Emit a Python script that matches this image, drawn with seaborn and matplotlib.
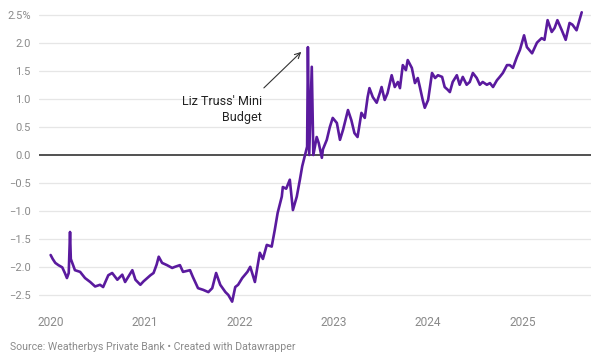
import pandas as pd
import matplotlib.pyplot as plt
import matplotlib.dates as mdates
import seaborn as sns

# Values (%)
dates = [
    "2020-01-02", "2020-01-10", "2020-01-20", "2020-02-01", "2020-02-16", "2020-02-26",
    "2020-03-05", "2020-03-12", "2020-03-17", "2020-03-20", "2020-03-24", "2020-04-05",
    "2020-04-25", "2020-05-14", "2020-06-03", "2020-06-22", "2020-07-11", "2020-07-23",
    "2020-08-12", "2020-08-27", "2020-09-16", "2020-10-05", "2020-10-16", "2020-11-13",
    "2020-11-25", "2020-12-14", "2020-12-26", "2021-01-10", "2021-01-22", "2021-02-03",
    "2021-02-15", "2021-02-23", "2021-03-08", "2021-03-27", "2021-04-16", "2021-04-27",
    "2021-05-16", "2021-05-28", "2021-06-24", "2021-07-05", "2021-07-25", "2021-08-14",
    "2021-09-03", "2021-09-18", "2021-10-03", "2021-10-19", "2021-11-08", "2021-11-19",
    "2021-12-04", "2021-12-16", "2021-12-27", "2022-01-12", "2022-02-01", "2022-02-12",
    "2022-03-02", "2022-03-21", "2022-04-02", "2022-04-17", "2022-05-06", "2022-05-18",
    "2022-05-29", "2022-06-14", "2022-06-18", "2022-07-01", "2022-07-15", "2022-07-27",
    "2022-08-11", "2022-08-23", "2022-09-01", "2022-09-12", "2022-09-20", "2022-09-23",
    "2022-09-28", "2022-10-08", "2022-10-14", "2022-10-27", "2022-11-04", "2022-11-16",
    "2022-11-20", "2022-12-05", "2022-12-17", "2022-12-28", "2023-01-13", "2023-01-25",
    "2023-02-06", "2023-02-25", "2023-03-10", "2023-03-22", "2023-04-03", "2023-04-18",
    "2023-05-01", "2023-05-12", "2023-05-19", "2023-06-01", "2023-06-16", "2023-06-28",
    "2023-07-05", "2023-07-17", "2023-07-28", "2023-08-13", "2023-08-25", "2023-09-06",
    "2023-09-14", "2023-09-25", "2023-10-07", "2023-10-14", "2023-10-30", "2023-11-11",
    "2023-11-22", "2023-11-30", "2023-12-11", "2023-12-19", "2024-01-01", "2024-01-16",
    "2024-01-28", "2024-02-08", "2024-02-24", "2024-03-05", "2024-03-17", "2024-03-25",
    "2024-04-05", "2024-04-21", "2024-05-02", "2024-05-14", "2024-05-29", "2024-06-10",
    "2024-06-22", "2024-07-07", "2024-07-19", "2024-07-30", "2024-08-15", "2024-08-27",
    "2024-09-08", "2024-09-23", "2024-10-04", "2024-10-16", "2024-11-01", "2024-11-12",
    "2024-11-24", "2024-12-09", "2024-12-21", "2025-01-06", "2025-01-17", "2025-02-06",
    "2025-02-25", "2025-03-15", "2025-03-26", "2025-04-07", "2025-04-23", "2025-05-04",
    "2025-05-15", "2025-06-01", "2025-06-16", "2025-07-01", "2025-07-12", "2025-07-28",
    "2025-08-05", "2025-08-17",
]
spread = [
    -1.78, -1.85, -1.92, -1.96, -2.00, -2.10,
    -2.19, -2.10, -1.37, -1.85, -1.90, -2.05,
    -2.08, -2.19, -2.26, -2.34, -2.31, -2.35,
    -2.14, -2.10, -2.22, -2.13, -2.26, -2.05,
    -2.22, -2.31, -2.25, -2.19, -2.14, -2.10,
    -1.95, -1.81, -1.92, -1.96, -2.01, -1.99,
    -1.96, -2.08, -2.05, -2.17, -2.37, -2.40,
    -2.44, -2.37, -2.10, -2.31, -2.44, -2.49,
    -2.61, -2.35, -2.31, -2.19, -2.08, -1.99,
    -2.26, -1.74, -1.85, -1.60, -1.63, -1.33,
    -1.03, -0.74, -0.57, -0.60, -0.44, -0.98,
    -0.74, -0.44, -0.20, 0.00, 0.15, 1.92,
    0.00, 1.57, 0.00, 0.32, 0.21, -0.05,
    0.10, 0.27, 0.50, 0.66, 0.57, 0.27,
    0.45, 0.80, 0.62, 0.39, 0.32, 0.75,
    0.66, 1.03, 1.19, 1.03, 0.93, 1.10,
    1.21, 0.98, 1.10, 1.42, 1.21, 1.30,
    1.19, 1.60, 1.51, 1.69, 1.55, 1.28,
    1.37, 1.21, 0.98, 0.84, 0.98, 1.46,
    1.37, 1.42, 1.39, 1.21, 1.16, 1.12,
    1.30, 1.42, 1.25, 1.39, 1.25, 1.30,
    1.46, 1.37, 1.25, 1.30, 1.25, 1.28,
    1.21, 1.33, 1.39, 1.46, 1.60, 1.60,
    1.55, 1.74, 1.87, 2.13, 1.92, 1.81,
    2.00, 2.08, 2.05, 2.40, 2.19, 2.26,
    2.40, 2.22, 2.05, 2.35, 2.32, 2.22,
    2.35, 2.54,
]
y_ticks = [2.5, 2.0, 1.5, 1.0, 0.5, 0.0, -0.5, -1.0, -1.5, -2.0, -2.5]
y_labels = ["2.5%", "2.0", "1.5", "1.0", "0.5", "0.0", "−0.5", "−1.0", "−1.5", "−2.0", "−2.5"]
years = [2020, 2021, 2022, 2023, 2024, 2025]

df = pd.DataFrame({"date": pd.to_datetime(dates), "spread": spread})

sns.set_style("white")
plt.rcParams["font.family"] = ["Roboto", "DejaVu Sans"]

fig = plt.figure(figsize=(6.01, 3.64), dpi=100)
ax = fig.add_axes([0.0649, 0.1574, 0.9185, 0.8181])

for t in y_ticks:
    if t != 0:
        ax.axhline(t, color="#e6e6e6", lw=0.9, zorder=0)
ax.axhline(0, color="#333333", lw=1.2, zorder=1)

sns.lineplot(data=df, x="date", y="spread", color="#5a1a9e", lw=1.9, ax=ax, zorder=3)

ax.set_xlim(pd.Timestamp("2019-11-18"), pd.Timestamp("2025-09-22"))
ax.set_ylim(-2.7, 2.6)
ax.set_yticks(y_ticks)
ax.set_yticklabels(y_labels)
ax.set_xticks([pd.Timestamp(f"{y}-01-01") for y in years])
ax.xaxis.set_major_formatter(mdates.DateFormatter("%Y"))
ax.tick_params(axis="y", length=0, pad=6, labelsize=8, labelcolor="#8a8a8a")
ax.tick_params(axis="x", length=0, pad=7, labelsize=8.6, labelcolor="#8a8a8a")
for lab in ax.get_yticklabels():
    lab.set_horizontalalignment("right")
ax.set_xlabel("")
ax.set_ylabel("")
sns.despine(ax=ax, left=True, bottom=True)

# Annotation
ax.annotate("", xy=(pd.Timestamp("2022-09-05"), 1.87),
            xytext=(pd.Timestamp("2022-03-29"), 1.16),
            arrowprops=dict(arrowstyle="->", color="#333333", lw=0.8))
ax.text(pd.Timestamp("2022-03-29"), 1.07, "Liz Truss' Mini\nBudget",
        ha="right", va="top", fontsize=9, color="#222222", linespacing=1.35)

fig.text(10 / 601, 1 - 347 / 364, "Source: Weatherbys Private Bank • Created with Datawrapper",
         ha="left", va="center", fontsize=7.6, color="#8a8a8a")

fig.savefig("out.png", dpi=100)
